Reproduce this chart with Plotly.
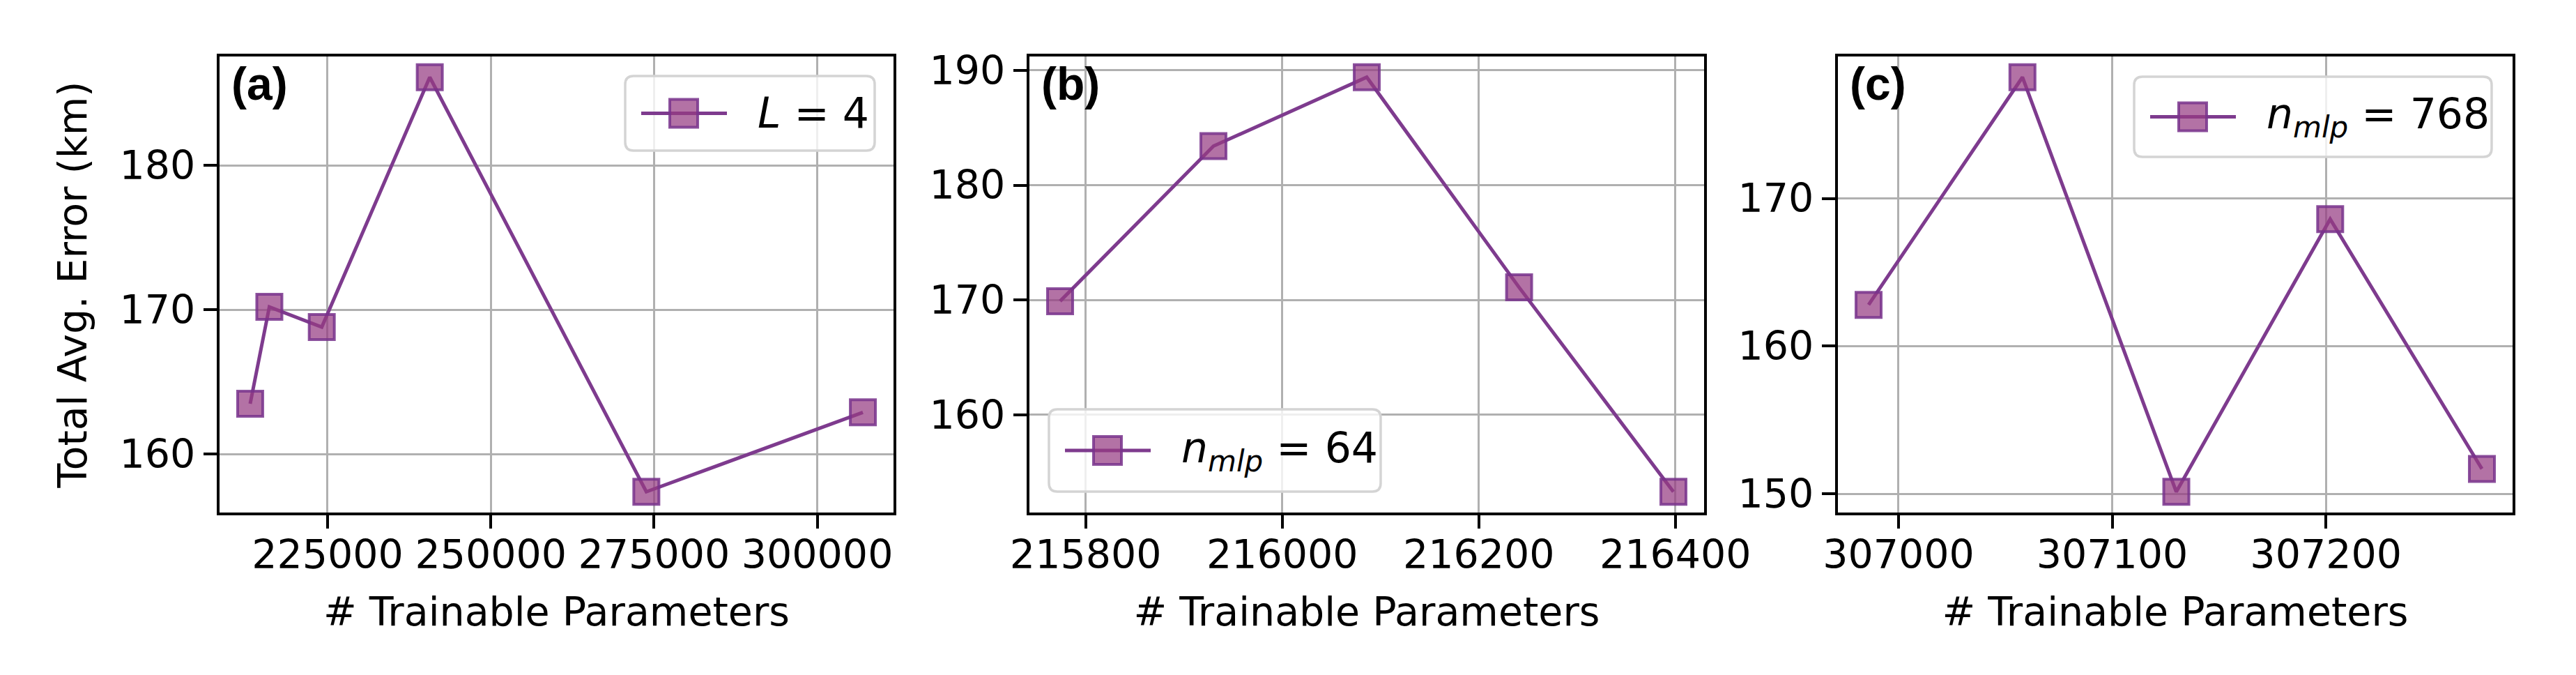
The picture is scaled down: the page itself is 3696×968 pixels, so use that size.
import plotly.graph_objects as go

# (a) L = 4
a_params = [213150, 216085, 224115, 240655, 273820, 306985]
a_error = [163.5, 170.2, 168.8, 186.1, 157.4, 162.9]
# (b) n_mlp = 64
b_params = [215774, 215930, 216086, 216241, 216398]
b_error = [169.9, 183.4, 189.4, 171.1, 153.3]
# (c) n_mlp = 768
c_params = [306986, 307058, 307130, 307202, 307273]
c_error = [162.8, 178.2, 150.15, 168.6, 151.7]

names = ["<i>L</i> = 4", "<i>n</i><sub><i>mlp</i></sub> = 64", "<i>n</i><sub><i>mlp</i></sub> = 768"]
labels = ["(a)", "(b)", "(c)"]
x_dticks = [25000, 200, 100]

W, H = 3696, 968
LINE = "#7e3b8e"
FILL = "rgba(150,60,130,0.72)"
EDGE = "rgba(120,50,140,0.85)"
FONT = dict(family="DejaVu Sans", size=57, color="black")

# pixel boxes of the three axes (left, right), shared top/bottom
x_boxes = [(307, 1274), (1469, 2437), (2629, 3597)]
top, bottom = 73, 727
# legend boxes (left, top, right, bottom) in pixels, matplotlib style
legend_boxes = [(889, 101, 1247, 208), (1497, 579, 1973, 697), (3054, 102, 3567, 217)]


def pad(vals, frac=0.05):
    lo, hi = min(vals), max(vals)
    d = (hi - lo) * frac
    return [lo - d, hi + d]


def px(x):
    return x / W


def py(y):
    return 1 - y / H


def rounded_box(l, t, r, b, rad=12):
    pts = [
        "M %f,%f" % (px(l + rad), py(t)),
        "L %f,%f" % (px(r - rad), py(t)),
        "Q %f,%f %f,%f" % (px(r), py(t), px(r), py(t + rad)),
        "L %f,%f" % (px(r), py(b - rad)),
        "Q %f,%f %f,%f" % (px(r), py(b), px(r - rad), py(b)),
        "L %f,%f" % (px(l + rad), py(b)),
        "Q %f,%f %f,%f" % (px(l), py(b), px(l), py(b - rad)),
        "L %f,%f" % (px(l), py(t + rad)),
        "Q %f,%f %f,%f" % (px(l), py(t), px(l + rad), py(t)),
        "Z",
    ]
    return " ".join(pts)


fig = go.Figure()
series = [(a_params, a_error), (b_params, b_error), (c_params, c_error)]

for i, (xs, ys) in enumerate(series):
    n = "" if i == 0 else str(i + 1)
    fig.add_trace(go.Scatter(
        x=xs, y=ys, mode="lines+markers", name=names[i],
        xaxis="x" + n, yaxis="y" + n, showlegend=False,
        line=dict(color=LINE, width=5),
        marker=dict(symbol="square", size=36, color=FILL, line=dict(color=EDGE, width=4)),
    ))
    l, r = x_boxes[i]
    axis_common = dict(
        showline=True, linecolor="black", linewidth=4.4, mirror=True,
        ticks="outside", ticklen=19, tickwidth=4.4, tickcolor="black",
        showgrid=True, gridcolor="#b0b0b0", gridwidth=2.7,
        zeroline=False, tickfont=FONT, automargin=False,
    )
    fig.layout["xaxis" + n] = dict(
        axis_common, domain=[l / W, r / W], anchor="y" + n,
        range=pad(xs), dtick=x_dticks[i], tick0=0, tickformat="d",
        ticklabelstandoff=-12,
        title=dict(text="# Trainable Parameters", standoff=32, font=FONT),
    )
    fig.layout["yaxis" + n] = dict(
        axis_common, domain=[1 - bottom / H, 1 - top / H], anchor="x" + n,
        range=pad(ys), dtick=10, tick0=0,
        title=dict(text="Total Avg. Error (km)" if i == 0 else "", standoff=30, font=FONT),
    )
    fig.add_annotation(
        text="<b>%s</b>" % labels[i], xref="x%s domain" % n, yref="y%s domain" % n,
        x=0.016, y=0.94, xanchor="left", yanchor="middle", showarrow=False,
        font=dict(family="Liberation Sans", size=66, color="black"),
    )

    # legend drawn by hand so the square keeps its plotted size
    bl, bt, br, bb = legend_boxes[i]
    cy = (bt + bb) / 2
    fig.add_shape(type="path", path=rounded_box(bl, bt, br, bb), xref="paper", yref="paper",
                  fillcolor="rgba(255,255,255,0.8)", line=dict(color="#d4d4d4", width=3.5))
    fig.add_shape(type="line", xref="paper", yref="paper",
                  x0=px(bl + 23), x1=px(bl + 146), y0=py(cy), y1=py(cy),
                  line=dict(color=LINE, width=5))
    fig.add_shape(type="rect", xref="paper", yref="paper",
                  x0=px(bl + 64), x1=px(bl + 104), y0=py(cy - 20), y1=py(cy + 20),
                  fillcolor=FILL, line=dict(color=EDGE, width=4))
    fig.add_annotation(
        text=names[i], xref="paper", yref="paper", x=px(bl + 188), y=py(cy),
        xanchor="left", yanchor="middle", showarrow=False,
        font=dict(family="DejaVu Sans", size=60, color="black"),
    )

fig.update_layout(
    width=W, height=H,
    margin=dict(l=0, r=0, t=0, b=0),
    paper_bgcolor="white", plot_bgcolor="white",
    showlegend=False,
)

fig.write_html("out.html")
